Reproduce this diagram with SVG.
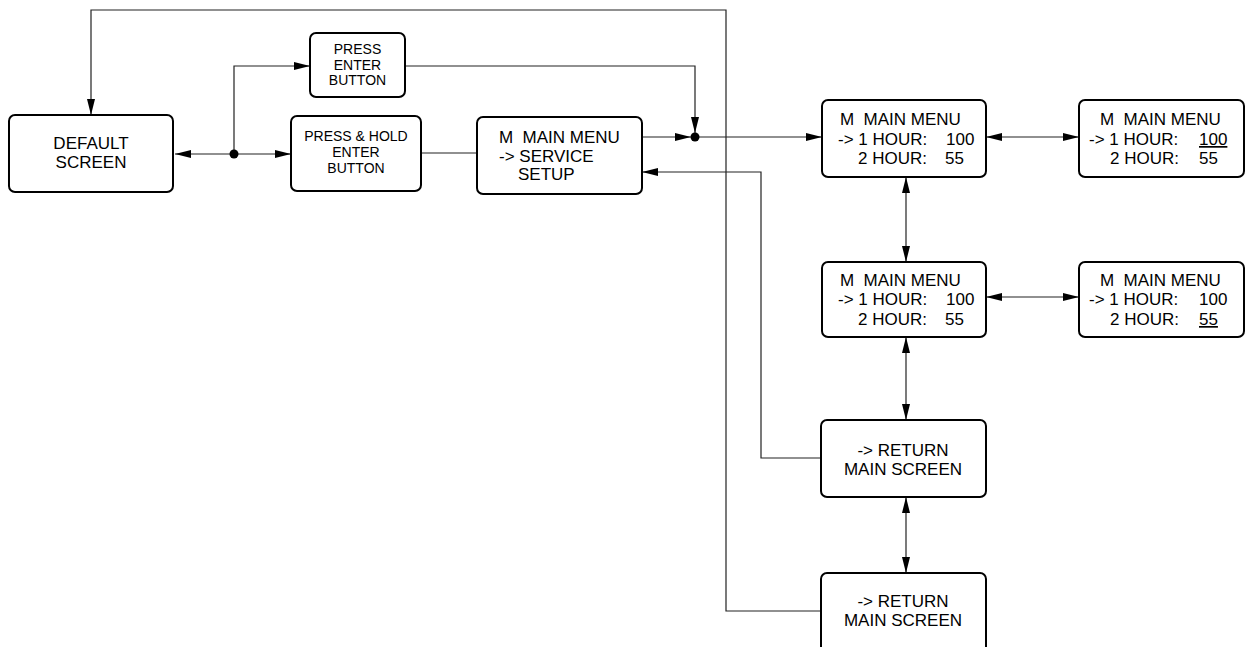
<svg xmlns="http://www.w3.org/2000/svg" width="1247" height="647" viewBox="0 0 1247 647">
<style>
.box{fill:#fff;stroke:#000;stroke-width:2}
.t{font-family:"Liberation Sans",Arial,sans-serif;fill:#000}
.c{text-anchor:middle}
.s17{font-size:17px}
.s14{font-size:14px}
.ln{fill:none;stroke:#222;stroke-width:1.2}
.u{text-decoration:underline}
</style>
<defs>
<marker id="ah" viewBox="0 0 16 8" refX="16" refY="4" markerWidth="16" markerHeight="8" markerUnits="userSpaceOnUse" orient="auto-start-reverse">
<path d="M0,0 L16,4 L0,8 Z" fill="#000"/>
</marker>
</defs>
<rect width="1247" height="647" fill="#fff"/>
<g id="connectors">
<path class="ln" d="M821,611 H726 V10 H91 V115" marker-end="url(#ah)"/>
<path class="ln" d="M234,154 H175" marker-end="url(#ah)"/>
<path class="ln" d="M234,154 H291" marker-end="url(#ah)"/>
<path class="ln" d="M234,154 V66 H310" marker-end="url(#ah)"/>
<path class="ln" d="M421,153 H477"/>
<path class="ln" d="M642,137 H691" marker-end="url(#ah)"/>
<path class="ln" d="M405,66 H695 V133" marker-end="url(#ah)"/>
<path class="ln" d="M695,137 H822" marker-end="url(#ah)"/>
<path class="ln" d="M821,458 H761 V172 H642" marker-end="url(#ah)"/>
<path class="ln" d="M986,137 H1079" marker-start="url(#ah)" marker-end="url(#ah)"/>
<path class="ln" d="M986,297 H1079" marker-start="url(#ah)" marker-end="url(#ah)"/>
<path class="ln" d="M906,177 V262" marker-start="url(#ah)" marker-end="url(#ah)"/>
<path class="ln" d="M906,337 V420" marker-start="url(#ah)" marker-end="url(#ah)"/>
<path class="ln" d="M906,497 V573" marker-start="url(#ah)" marker-end="url(#ah)"/>
<circle cx="234" cy="154" r="4.5" fill="#000"/>
<circle cx="695" cy="137" r="4.5" fill="#000"/>
</g>
<g id="default-screen">
<rect class="box" x="9" y="115" width="164" height="77" rx="6"/>
<text class="t c s17" x="91" y="149">DEFAULT</text>
<text class="t c s17" x="91" y="168">SCREEN</text>
</g>
<g id="press-enter">
<rect class="box" x="310" y="33" width="95" height="64" rx="6"/>
<text class="t c s14" x="357.5" y="54">PRESS</text>
<text class="t c s14" x="357.5" y="69.5">ENTER</text>
<text class="t c s14" x="357.5" y="85">BUTTON</text>
</g>
<g id="press-hold">
<rect class="box" x="291" y="116" width="130" height="75" rx="6"/>
<text class="t c s14" x="356" y="141">PRESS &amp; HOLD</text>
<text class="t c s14" x="356" y="157">ENTER</text>
<text class="t c s14" x="356" y="172.5">BUTTON</text>
</g>
<g id="service-setup">
<rect class="box" x="477" y="117" width="165" height="77" rx="6"/>
<text class="t s17" x="499" y="143" xml:space="preserve">M  MAIN MENU</text>
<text class="t s17" x="499" y="162">-&gt; SERVICE</text>
<text class="t s17" x="518" y="180">SETUP</text>
</g>
<g id="menu-1">
<rect class="box" x="822" y="100" width="164" height="77" rx="6"/>
<text class="t s17" x="840" y="125" xml:space="preserve">M  MAIN MENU</text>
<text class="t s17" x="838" y="145">-&gt; 1 HOUR:</text>
<text class="t s17" x="946" y="145">100</text>
<text class="t s17" x="858" y="164">2 HOUR:</text>
<text class="t s17" x="945" y="164">55</text>
</g>
<g id="menu-1-edit">
<rect class="box" x="1079" y="100" width="165" height="77" rx="6"/>
<text class="t s17" x="1100" y="125" xml:space="preserve">M  MAIN MENU</text>
<text class="t s17" x="1089" y="145">-&gt; 1 HOUR:</text>
<text class="t s17 u" x="1199" y="145">100</text>
<text class="t s17" x="1110" y="164">2 HOUR:</text>
<text class="t s17" x="1199" y="164">55</text>
</g>
<g id="menu-2">
<rect class="box" x="822" y="262" width="164" height="75" rx="6"/>
<text class="t s17" x="840" y="286" xml:space="preserve">M  MAIN MENU</text>
<text class="t s17" x="838" y="305">-&gt; 1 HOUR:</text>
<text class="t s17" x="946" y="305">100</text>
<text class="t s17" x="858" y="325">2 HOUR:</text>
<text class="t s17" x="945" y="325">55</text>
</g>
<g id="menu-2-edit">
<rect class="box" x="1079" y="262" width="165" height="75" rx="6"/>
<text class="t s17" x="1100" y="286" xml:space="preserve">M  MAIN MENU</text>
<text class="t s17" x="1089" y="305">-&gt; 1 HOUR:</text>
<text class="t s17" x="1199" y="305">100</text>
<text class="t s17" x="1110" y="325">2 HOUR:</text>
<text class="t s17 u" x="1199" y="325">55</text>
</g>
<g id="return-1">
<rect class="box" x="821" y="420" width="165" height="77" rx="6"/>
<text class="t c s17" x="903" y="456">-&gt; RETURN</text>
<text class="t c s17" x="903" y="475">MAIN SCREEN</text>
</g>
<g id="return-2">
<rect class="box" x="821" y="573" width="165" height="80" rx="6"/>
<text class="t c s17" x="903" y="607">-&gt; RETURN</text>
<text class="t c s17" x="903" y="626">MAIN SCREEN</text>
</g>
</svg>
